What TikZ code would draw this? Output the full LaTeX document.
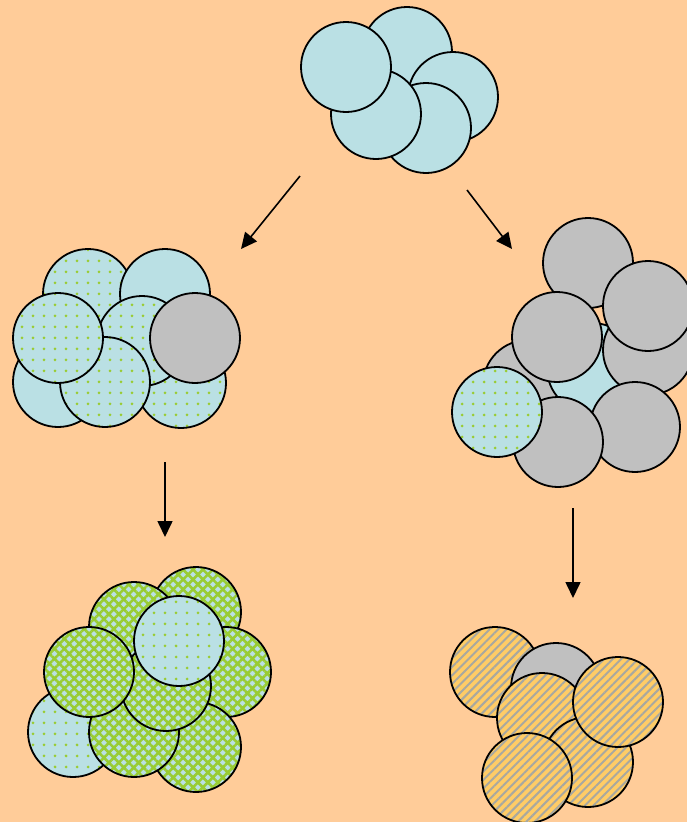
\documentclass[tikz,border=0pt]{standalone}
\usetikzlibrary{patterns.meta,arrows.meta}

\definecolor{peach}{HTML}{FFCC99}
\definecolor{ballblue}{HTML}{BAE0E4}
\definecolor{ballgray}{HTML}{C0C0C0}
\definecolor{dotgreen}{HTML}{99CC33}
\definecolor{ballorange}{HTML}{FFCC66}
\definecolor{stripegray}{HTML}{A8A8A0}

\begin{document}
\begin{tikzpicture}[x=1pt, y=-1pt, line width=1.8pt,
		ball/.style={circle, draw=black, inner sep=0pt, minimum size=90pt},
		blueball/.style={ball, fill=ballblue},
		grayball/.style={ball, fill=ballgray},
		dotball/.style={ball, preaction={fill=ballblue}, pattern={Dots[distance=11pt,radius=1.5pt]}, pattern color=dotgreen},
		crossball/.style={ball, preaction={fill=ballblue}, pattern={Hatch[distance=7pt,angle=45,line width=2.6pt]}, pattern color=dotgreen},
		stripeball/.style={ball, preaction={fill=ballorange}, pattern={Lines[distance=6pt,angle=45,line width=2pt]}, pattern color=stripegray}]
		\fill[peach] (0,0) rectangle (687,822);
		\useasboundingbox (0,0) rectangle (687,822);
		
		% Start cluster
		\foreach \n/\p/\s in {t1/{407,52}/blueball, t2/{453,97}/blueball, t3/{426,128}/blueball,
			t4/{376,114}/blueball, t5/{346,67}/blueball}{
			\node[\s] (\n) at (\p) {};
		}
		
		% Left branch
		\foreach \n/\p/\s in {l1/{88,294}/dotball, l2/{165,294}/blueball, l3/{58,382}/blueball,
			l4/{181,383}/dotball, l5/{142,341}/dotball, l6/{105,382}/dotball,
			l7/{58,338}/dotball, l8/{195,338}/grayball}{
			\node[\s] (\n) at (\p) {};
		}
		\foreach \n/\p/\s in {b1/{196,612}/crossball, b2/{134,627}/crossball, b3/{226,672}/crossball,
			b4/{73,732}/dotball, b5/{196,747}/crossball, b6/{134,732}/crossball,
			b7/{166,686}/crossball, b8/{89,672}/crossball, b9/{179,641}/dotball}{
			\node[\s] (\n) at (\p) {};
		}
		
		% Right branch
		\foreach \n/\p/\s in {r1/{528,385}/grayball, r2/{592,368}/blueball, r3/{588,263}/grayball,
			r4/{648,350}/grayball, r5/{648,306}/grayball, r6/{557,337}/grayball,
			r7/{635,427}/grayball, r8/{558,442}/grayball, r9/{497,412}/dotball}{
			\node[\s] (\n) at (\p) {};
		}
		\foreach \n/\p/\s in {s1/{495,672}/stripeball, s2/{556,688}/grayball, s3/{542,718}/stripeball,
			s4/{588,762}/stripeball, s5/{618,702}/stripeball, s6/{527,778}/stripeball}{
			\node[\s] (\n) at (\p) {};
		}
		
		% Draw arrows
		\coordinate (a1s) at (300,176); \coordinate (a1e) at (241,249);
		\coordinate (a2s) at (467,190); \coordinate (a2e) at (512,249);
		\coordinate (a3s) at (165,462); \coordinate (a3e) at (165,537);
		\coordinate (a4s) at (573,508); \coordinate (a4e) at (573,598);
		\foreach \a in {1,2,3,4}{
			\draw[line width=1.6pt, -{Triangle[length=16pt,width=15pt]}] (a\a s) -- (a\a e);
		}
	\end{tikzpicture}
\end{document}
